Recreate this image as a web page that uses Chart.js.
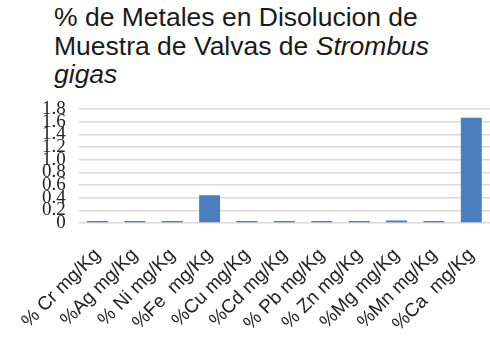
<!DOCTYPE html>
<html>
<head>
<meta charset="utf-8">
<script src="https://cdn.jsdelivr.net/npm/chart.js"></script>
<style>
  html, body { margin: 0; padding: 0; background: #fff; }
  #wrap { position: relative; width: 490px; height: 337px; }
  #title {
    position: absolute; left: 54px; top: 3px;
    font-family: "Liberation Sans", Arial, sans-serif;
    font-size: 26.5px; line-height: 28.5px; color: #1a1a1a;
  }
  canvas { position: absolute; left: 0; top: 0; }
</style>
</head>
<body>
<div id="wrap">
  <div id="title">% de Metales en Disolucion de<br>Muestra de Valvas de <i>Strombus</i><br><i>gigas</i></div>
  <canvas id="c" width="490" height="337"></canvas>
</div>
<script>
var LABELS = ["% Cr mg/Kg", "%Ag mg/Kg", "% Ni mg/Kg", "%Fe  mg/Kg", "%Cu mg/Kg", "%Cd mg/Kg",
  "% Pb mg/Kg", "% Zn mg/Kg", "%Mg mg/Kg", "%Mn mg/Kg", "%Ca  mg/Kg"];
var VALUES = [0.03, 0.03, 0.03, 0.44, 0.03, 0.03, 0.03, 0.03, 0.04, 0.03, 1.66];
var Y_MAX = 1.8;
var Y_STEP = 0.2;

new Chart(document.getElementById("c"), {
  type: "bar",
  data: {
    labels: LABELS,
    datasets: [{
      data: VALUES,
      backgroundColor: "#4a7ebe",
      borderWidth: 0,
      categoryPercentage: 1,
      barPercentage: 0.56
    }]
  },
  options: {
    responsive: false,
    animation: false,
    layout: { padding: { top: 109, right: 0, left: 29, bottom: 0 } },
    plugins: { legend: { display: false }, tooltip: { enabled: false } },
    scales: {
      x: {
        grid: { display: false },
        border: { display: false },
        afterFit: function (s) { s.paddingRight = 0; },
        ticks: {
          autoSkip: false,
          minRotation: 45,
          maxRotation: 45,
          padding: 13,
          color: "#222",
          font: { family: "'Liberation Sans', Arial, sans-serif", size: 19 }
        }
      },
      y: {
        min: 0,
        max: Y_MAX,
        grid: { color: "#d9d9d9", lineWidth: 1.5, drawTicks: false },
        border: { display: false },
        ticks: {
          stepSize: Y_STEP,
          autoSkip: false,
          padding: 13,
          color: "#222",
          font: { family: "'Liberation Serif', 'Times New Roman', serif", size: 19 }
        }
      }
    }
  }
});
</script>
</body>
</html>
